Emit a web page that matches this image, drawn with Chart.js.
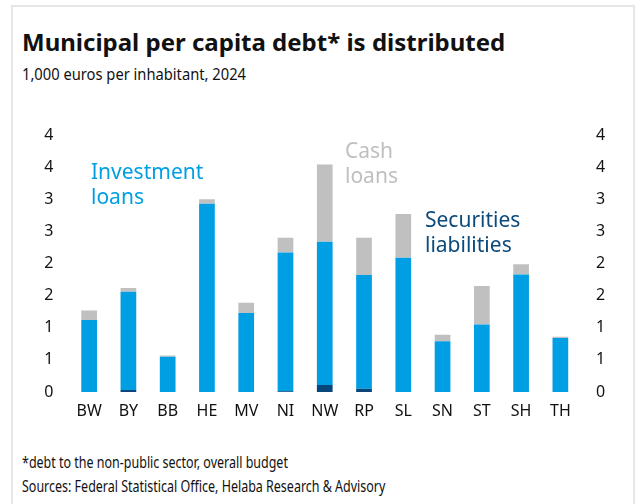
<!DOCTYPE html>
<html>
<head>
<meta charset="utf-8">
<script src="https://cdn.jsdelivr.net/npm/chart.js@4.4.0/dist/chart.umd.min.js"></script>
<style>
  html, body { margin: 0; padding: 0; background: #fff; }
  body { width: 641px; height: 504px; position: relative; overflow: hidden; font-family: 'Noto Sans', sans-serif; color: #111; }
  .card { position: absolute; left: 11px; top: 5px; width: 624px; height: 520px; border: 2px solid #e6e6e6; box-sizing: border-box; }
  .title { position: absolute; left: 22px; top: 25px; font-size: 24px; font-weight: 700; }
  .sub { position: absolute; left: 22px; top: 62px; font-size: 17px; transform: scaleX(0.865); transform-origin: left; white-space: nowrap; }
  .note { position: absolute; left: 22px; font-size: 16px; transform: scaleX(0.78); transform-origin: left; white-space: nowrap; }
  .lbl { position: absolute; font-size: 21px; line-height: 25px; }
  #wrap { position: absolute; left: 0; top: 101px; width: 641px; height: 331px; }
</style>
</head>
<body>
<div class="card"></div>
<div class="title">Municipal per capita debt* is distributed</div>
<div class="sub">1,000 euros per inhabitant, 2024</div>
<div id="wrap"><canvas id="grafico"></canvas></div>
<div class="lbl" style="left:91px; top:159px; color:#009fe3;">Investment<br>loans</div>
<div class="lbl" style="left:345px; top:138px; color:#bfbfbf;">Cash<br>loans</div>
<div class="lbl" style="left:425px; top:207px; color:#0b4a7a;">Securities<br>liabilities</div>
<div class="note" style="top:451px;">*debt to the non-public sector, overall budget</div>
<div class="note" style="top:475px;">Sources: Federal Statistical Office, Helaba Research &amp; Advisory</div>

<script>
// Länder
const laender = ['BW', 'BY', 'BB', 'HE', 'MV', 'NI', 'NW', 'RP', 'SL', 'SN', 'ST', 'SH', 'TH'];

// 1,000 euros per inhabitant
const wertpapiere = [0, 0.03, 0, 0, 0, 0.01, 0.11, 0.05, 0, 0, 0, 0, 0];
const investition = [1.12, 1.53, 0.55, 2.93, 1.23, 2.16, 2.23, 1.77, 2.09, 0.79, 1.05, 1.83, 0.84];
const kassenkredite = [0.15, 0.06, 0.02, 0.07, 0.16, 0.23, 1.20, 0.58, 0.68, 0.10, 0.60, 0.16, 0.02];

const yTicks = [0, 0.5, 1, 1.5, 2, 2.5, 3, 3.5, 4];

const colores = {
    wertpapiere: '#07457a',
    investition: '#009fe3',
    kassen: '#c0c0c0'
};

const fuente = { family: "'Noto Sans', sans-serif", size: 16 };

function ejeY(position, ancho, padding) {
    return {
        position: position,
        stacked: true,
        min: 0,
        max: 4,
        afterBuildTicks: axis => { axis.ticks = yTicks.map(v => ({ value: v })); },
        afterFit: axis => { axis.width = ancho; },
        ticks: {
            color: '#111',
            font: fuente,
            padding: padding,
            callback: v => Math.round(v).toString()
        },
        grid: { display: false, drawTicks: false },
        border: { display: false }
    };
}

new Chart(document.getElementById('grafico'), {
    type: 'bar',
    data: {
        labels: laender,
        datasets: [
            { label: 'Securities liabilities', data: wertpapiere, backgroundColor: colores.wertpapiere },
            { label: 'Investment loans', data: investition, backgroundColor: colores.investition },
            { label: 'Cash loans', data: kassenkredite, backgroundColor: colores.kassen }
        ]
    },
    options: {
        responsive: true,
        maintainAspectRatio: false,
        animation: false,
        layout: { padding: { top: 34, left: 0, right: 0, bottom: 0 } },
        datasets: { bar: { barPercentage: 0.4, categoryPercentage: 1.0, borderWidth: 0 } },
        plugins: { legend: { display: false }, tooltip: { enabled: false }, title: { display: false } },
        scales: {
            x: {
                stacked: true,
                afterFit: axis => { axis.height = 40; },
                ticks: { color: '#111', font: fuente, padding: 10, maxRotation: 0 },
                grid: { display: false, drawTicks: false },
                border: { display: false }
            },
            y: ejeY('left', 69.5, 16),
            y2: ejeY('right', 61, 16)
        }
    }
});
</script>
</body>
</html>
